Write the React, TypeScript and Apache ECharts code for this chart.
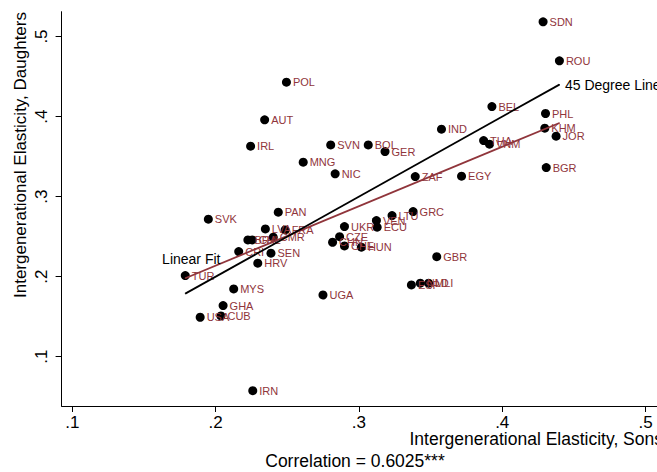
import React, { useEffect, useRef } from 'react';
import * as echarts from 'echarts';

// Country codes and intergenerational elasticities (sons on x, daughters on y)
const countries = [
  'SDN', 'ROU', 'POL', 'BEL', 'PHL', 'AUT', 'IND', 'KHM', 'JOR', 'IRL',
  'SVN', 'BOL', 'GER', 'THA', 'VNM', 'MNG', 'NIC', 'BGR', 'ZAF', 'EGY',
  'SVK', 'PAN', 'GRC', 'LTU', 'VEN', 'ECU', 'UKR', 'LVA', 'FRA', 'CMR',
  'BRA', 'CHL', 'CRI', 'SEN', 'HRV', 'CZE', 'CHN', 'CHE', 'HUN', 'GBR',
  'ESP', 'NLD', 'MLI', 'TUR', 'MYS', 'UGA', 'GHA', 'USA', 'CUB', 'IRN',
];
const sonsElasticity = [
  0.4285, 0.4399, 0.2494, 0.3928, 0.4302, 0.2342, 0.3576, 0.4297, 0.4376, 0.2244,
  0.2803, 0.3065, 0.3182, 0.3870, 0.3911, 0.2611, 0.2834, 0.4307, 0.3393, 0.3716,
  0.1949, 0.2437, 0.3378, 0.3231, 0.3122, 0.3127, 0.2899, 0.2347, 0.2485, 0.2402,
  0.2225, 0.2255, 0.2161, 0.2386, 0.2294, 0.2865, 0.2816, 0.2899, 0.3017, 0.3543,
  0.3366, 0.3428, 0.3486, 0.1788, 0.2126, 0.2749, 0.2052, 0.1892, 0.2037, 0.2259,
];
const daughtersElasticity = [
  0.5184, 0.4696, 0.4430, 0.4125, 0.4038, 0.3959, 0.3843, 0.3855, 0.3755, 0.3630,
  0.3646, 0.3646, 0.3563, 0.3700, 0.3655, 0.3430, 0.3284, 0.3363, 0.3250, 0.3255,
  0.2718, 0.2805, 0.2813, 0.2763, 0.2700, 0.2618, 0.2625, 0.2596, 0.2584, 0.2493,
  0.2459, 0.2459, 0.2313, 0.2293, 0.2168, 0.2500, 0.2430, 0.2384, 0.2368, 0.2250,
  0.1896, 0.1918, 0.1918, 0.2013, 0.1846, 0.1771, 0.1638, 0.1493, 0.1509, 0.0575,
];

const xTickValues = [0.1, 0.2, 0.3, 0.4, 0.5];
const xTickLabels = ['.1', '.2', '.3', '.4', '.5'];
const yTickValues = [0.1, 0.2, 0.3, 0.4, 0.5];
const yTickLabels = ['.1', '.2', '.3', '.4', '.5'];

// 45 degree line (y = x) and linear fit endpoints
const diagonalX = [0.1788, 0.4399];
const fitX = [0.1788, 0.4399];
const fitY = [0.198, 0.392];

const MAROON = '#90353b';
const FONT = '"Liberation Sans", Arial, sans-serif';

function tickLabel(values: number[], labels: string[], v: number) {
  let best = 0;
  for (let i = 0; i < values.length; i++) {
    if (Math.abs(values[i] - v) < Math.abs(values[best] - v)) best = i;
  }
  return labels[best];
}

export default function App() {
  const ref = useRef<HTMLDivElement>(null);
  useEffect(() => {
    if (!ref.current) return;
    const chart = echarts.init(ref.current, undefined, { renderer: 'svg' });
    const scatterData = countries.map((c, i) => ({
      name: c,
      value: [sonsElasticity[i], daughtersElasticity[i]],
    }));
    const fitData = fitX.map((x, i) => ({
      value: [x, fitY[i]],
      label: i === 0
        ? { show: true, formatter: 'Linear Fit', position: 'top', distance: 12, offset: [6, 0], color: '#000', fontSize: 14, fontFamily: FONT }
        : { show: false },
    }));
    const diagData = diagonalX.map((x, i) => ({
      value: [x, x],
      label: i === diagonalX.length - 1
        ? { show: true, formatter: '45 Degree Line', position: 'right', distance: 5, color: '#000', fontSize: 14, fontFamily: FONT }
        : { show: false },
    }));
    chart.setOption({
      animation: false,
      grid: { left: 61.6, top: 11.7, width: 602, height: 394.3, containLabel: false },
      xAxis: {
        type: 'value',
        min: 0.0925,
        max: 0.508,
        axisLine: { show: true, onZero: false, lineStyle: { color: '#000', width: 1 } },
        axisTick: { show: true, customValues: xTickValues, length: 6, lineStyle: { color: '#000' } },
        axisLabel: {
          customValues: xTickValues,
          formatter: (v: number) => tickLabel(xTickValues, xTickLabels, v),
          color: '#000', fontSize: 17, fontFamily: FONT, margin: 8,
        },
        splitLine: { show: false },
      },
      yAxis: {
        type: 'value',
        min: 0.0384,
        max: 0.531,
        axisLine: { show: true, onZero: false, lineStyle: { color: '#000', width: 1 } },
        axisTick: { show: true, customValues: yTickValues, length: 6, lineStyle: { color: '#000' } },
        axisLabel: {
          customValues: yTickValues,
          formatter: (v: number) => tickLabel(yTickValues, yTickLabels, v),
          rotate: 90,
          color: '#000', fontSize: 17, fontFamily: FONT, margin: 12,
        },
        splitLine: { show: false },
      },
      series: [
        {
          type: 'scatter',
          data: scatterData,
          symbol: 'circle',
          symbolSize: 9,
          itemStyle: { color: '#000', opacity: 1 },
          silent: true,
          z: 2,
          label: {
            show: true,
            position: 'right',
            distance: 2,
            formatter: '{b}',
            color: MAROON,
            fontSize: 11,
            fontFamily: FONT,
          },
          labelLayout: { hideOverlap: false },
        },
        {
          type: 'line',
          data: fitData,
          symbol: 'circle',
          symbolSize: 1,
          itemStyle: { color: MAROON },
          lineStyle: { color: MAROON, width: 1.8 },
          silent: true,
          z: 3,
        },
        {
          type: 'line',
          data: diagData,
          symbol: 'circle',
          symbolSize: 1,
          itemStyle: { color: '#000' },
          lineStyle: { color: '#000', width: 1.8 },
          silent: true,
          z: 4,
        },
      ],
      graphic: [
        {
          type: 'text',
          x: 663,
          y: 439,
          style: { text: 'Intergenerational Elasticity, Sons', fill: '#000', fontSize: 17.5, fontFamily: FONT, textAlign: 'right', textVerticalAlign: 'middle' },
        },
        {
          type: 'text',
          x: 355,
          y: 461,
          style: { text: 'Correlation = 0.6025***', fill: '#000', fontSize: 17.5, fontFamily: FONT, textAlign: 'center', textVerticalAlign: 'middle' },
        },
        {
          type: 'text',
          x: 20,
          y: 12,
          rotation: Math.PI / 2,
          style: { text: 'Intergenerational Elasticity, Daughters', fill: '#000', fontSize: 17, fontFamily: FONT, textAlign: 'right', textVerticalAlign: 'middle' },
        },
      ],
    });
    return () => chart.dispose();
  }, []);
  return (
    <div
      ref={ref}
      style={{ position: 'absolute', left: 0, top: 0, width: 657, height: 472, background: '#fff' }}
    />
  );
}
